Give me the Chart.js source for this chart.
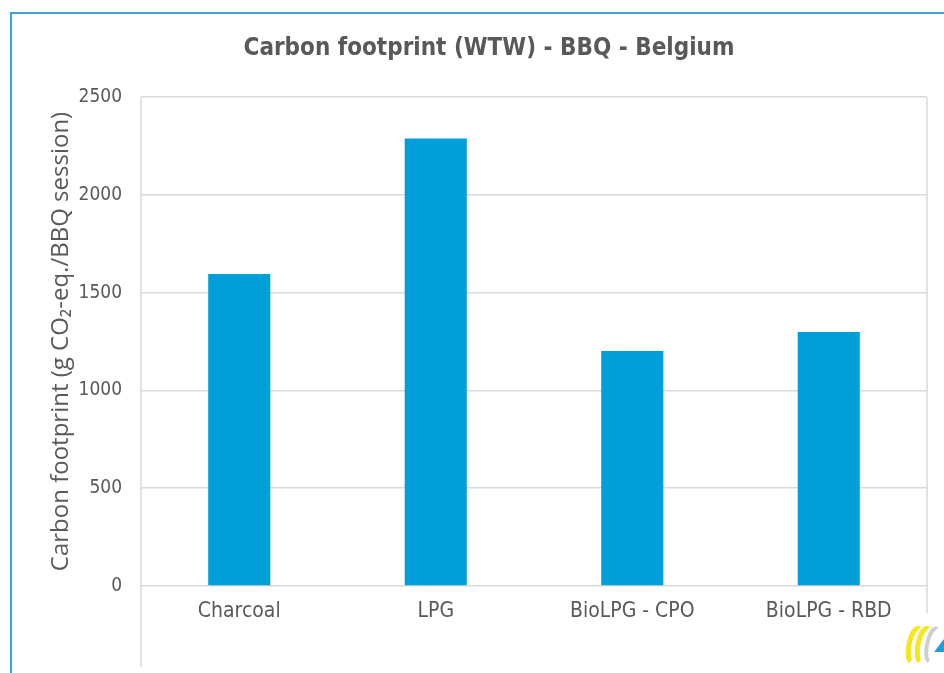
<!DOCTYPE html>
<html>
<head>
<meta charset="utf-8">
<script src="https://cdn.jsdelivr.net/npm/chart.js@4"></script>
<style>
  html, body { margin: 0; padding: 0; background: #fff; }
  #wrap { width: 944px; height: 673px; }
</style>
</head>
<body>
<div id="wrap"><canvas id="bbqChart" width="944" height="673"></canvas></div>
<script>
const fuelTypes = ['Charcoal', 'LPG', 'BioLPG - CPO', 'BioLPG - RBD'];
const footprintValues = [1595, 2288, 1202, 1298];
const yTicks = [0, 500, 1000, 1500, 2000, 2500];

const textGrey = '#595959';
const gridGrey = '#d9d9d9';

// frame, extra axis lines, title and logo
const decoPlugin = {
    id: 'deco',
    afterDraw(chart) {
        const ctx = chart.ctx;
        const area = chart.chartArea;
        ctx.save();

        // light blue frame (top + left)
        ctx.strokeStyle = '#3ea3d6';
        ctx.lineWidth = 2;
        ctx.beginPath();
        ctx.moveTo(11, 673);
        ctx.lineTo(11, 13);
        ctx.lineTo(944, 13);
        ctx.stroke();

        // axis lines
        ctx.strokeStyle = gridGrey;
        ctx.lineWidth = 1.5;
        ctx.beginPath();
        ctx.moveTo(area.left, area.top);
        ctx.lineTo(area.left, 667);
        ctx.moveTo(area.right, area.top);
        ctx.lineTo(area.right, 613);
        ctx.stroke();

        // title
        ctx.fillStyle = textGrey;
        ctx.font = 'bold 24px "DejaVu Sans Condensed"';
        ctx.textAlign = 'center';
        ctx.textBaseline = 'middle';
        ctx.fillText('Carbon footprint (WTW) - BBQ - Belgium', 489, 49);

        // small logo
        ctx.lineWidth = 5;
        ctx.strokeStyle = '#f5e61e';
        ctx.beginPath();
        ctx.ellipse(915, 645, 6, 17, 0.2, Math.PI * 0.55, Math.PI * 1.55);
        ctx.stroke();
        ctx.beginPath();
        ctx.ellipse(924, 645, 6, 17, 0.2, Math.PI * 0.55, Math.PI * 1.55);
        ctx.stroke();
        ctx.strokeStyle = '#cfcfcf';
        ctx.lineWidth = 4;
        ctx.beginPath();
        ctx.ellipse(933, 645, 6, 17, 0.2, Math.PI * 0.55, Math.PI * 1.55);
        ctx.stroke();
        ctx.fillStyle = '#1a9ee0';
        ctx.beginPath();
        ctx.moveTo(934, 652);
        ctx.lineTo(944, 639);
        ctx.lineTo(944, 652);
        ctx.closePath();
        ctx.fill();

        ctx.restore();
    }
};

const ctx = document.getElementById('bbqChart').getContext('2d');

new Chart(ctx, {
    type: 'bar',
    data: {
        labels: fuelTypes,
        datasets: [{
            label: 'Carbon footprint',
            data: footprintValues,
            backgroundColor: '#009fd9',
            borderWidth: 0,
            barPercentage: 0.316,
            categoryPercentage: 1
        }]
    },
    options: {
        responsive: false,
        animation: false,
        layout: {
            padding: { top: 97, right: 17, left: 0, bottom: 0 }
        },
        plugins: {
            legend: { display: false },
            title: { display: false },
            tooltip: { enabled: false }
        },
        scales: {
            x: {
                grid: { display: false, drawTicks: false },
                border: { display: false },
                ticks: {
                    color: textGrey,
                    font: { family: '"DejaVu Sans Condensed"', size: 21 },
                    padding: 13,
                    maxRotation: 0
                },
                afterFit(scale) { scale.height = 87; }
            },
            y: {
                min: 0,
                max: 2500,
                afterBuildTicks(scale) {
                    scale.ticks = yTicks.map(v => ({ value: v }));
                },
                grid: {
                    color: gridGrey,
                    lineWidth: 1.5,
                    drawTicks: false
                },
                border: { display: false },
                ticks: {
                    color: textGrey,
                    font: { family: '"DejaVu Sans Condensed"', size: 19 },
                    padding: 19,
                    callback: v => String(v)
                },
                title: {
                    display: true,
                    text: 'Carbon footprint (g CO\u2082-eq./BBQ session)',
                    color: textGrey,
                    font: { family: '"Open Sans"', size: 24 },
                    padding: { top: 47, bottom: 0 }
                },
                afterFit(scale) { scale.width = 141; }
            }
        }
    },
    plugins: [decoPlugin]
});
</script>
</body>
</html>
